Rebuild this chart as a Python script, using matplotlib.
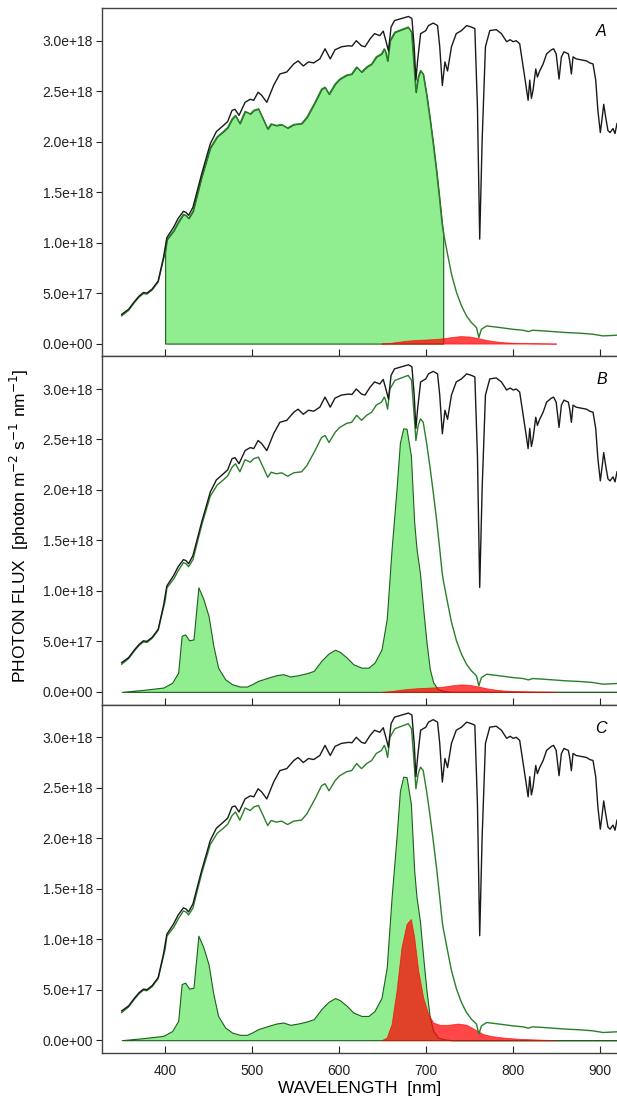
import numpy as np
import matplotlib
matplotlib.use('Agg')
import matplotlib.pyplot as plt
from matplotlib.ticker import FuncFormatter

plt.rcParams['font.family'] = ['Liberation Sans', 'DejaVu Sans']

# incident sunlight (black line), values in 1e18 photon m-2 s-1 nm-1
wl_sun = [350, 358, 365, 370, 375, 379, 385, 392, 398, 402, 409.6, 415, 421, 424, 427, 432,
          442, 452, 459, 467, 472, 477, 480.5, 485, 492, 498, 502, 507, 511, 517, 525, 532,
          540, 548, 553, 559, 565, 571, 578, 584, 590, 595.5, 603, 611, 615, 620, 626, 630,
          636, 641, 647, 651, 654, 657, 660, 664, 672, 680, 684, 686.6, 688.6, 690.5, 694,
          700, 703, 708.5, 713.5, 716, 719, 722, 725, 729.5, 735, 741, 747, 752.5, 756.4,
          759.4, 762, 764.8, 768.6, 773.6, 781, 787, 793, 797, 800.5, 804, 808, 811, 815,
          817.7, 819.6, 821.5, 823.4, 826.5, 828.4, 831, 835, 839, 844.5, 847, 850, 853.3,
          856, 859, 864, 865.6, 867.5, 869.4, 873, 879, 885, 888.6, 892.4, 895.5, 898,
          900.8, 903, 904.7, 907, 909.6, 912, 915.4, 917.7, 920]
sun = [0.29, 0.34, 0.42, 0.47, 0.506, 0.50, 0.54, 0.62, 0.85, 1.05, 1.15, 1.24, 1.31, 1.30,
       1.27, 1.35, 1.68, 1.98, 2.10, 2.16, 2.20, 2.31, 2.32, 2.26, 2.39, 2.42, 2.41, 2.49,
       2.46, 2.39, 2.56, 2.67, 2.69, 2.77, 2.80, 2.75, 2.79, 2.78, 2.82, 2.92, 2.82, 2.91,
       2.94, 2.95, 2.946, 3.00, 2.95, 2.94, 3.02, 3.07, 3.05, 3.095, 3.00, 2.90, 3.135, 3.20,
       3.22, 3.24, 3.22, 2.94, 2.61, 2.80, 3.07, 3.10, 3.15, 3.175, 3.15, 2.94, 2.556, 2.79,
       2.70, 2.94, 3.07, 3.10, 3.15, 3.135, 3.12, 2.34, 1.035, 2.01, 2.94, 3.10, 3.11, 3.07,
       2.99, 3.01, 2.99, 3.00, 2.97, 2.80, 2.57, 2.41, 2.61, 2.43, 2.51, 2.72, 2.64, 2.70,
       2.77, 2.87, 2.91, 2.92, 2.87, 2.62, 2.84, 2.89, 2.87, 2.80, 2.67, 2.84, 2.82, 2.81,
       2.80, 2.78, 2.77, 2.61, 2.31, 2.09, 2.24, 2.37, 2.24, 2.11, 2.09, 2.13, 2.08, 2.18]

# light reaching the leaf surface (green line)
wl_leaf = [350, 358, 365, 370, 375, 379, 385, 392, 398, 400, 402, 410, 415, 421, 424, 427, 432,
           442, 452, 460, 467, 472, 477, 481, 486, 492, 498, 502, 507.4, 512, 518, 522, 528,
           534, 541, 548, 557, 563, 572.5, 580, 584, 588.6, 595.5, 601, 609, 614.6, 620.4,
           626, 632, 637.6, 643, 649, 652.2, 653.7, 656, 658.7, 664.4, 672, 679.7, 683.6,
           686.3, 688.6, 691.2, 693.9, 697, 700.8, 704.6, 708.5, 712.3, 716, 718.8, 720,
           725, 729.5, 735.3, 741, 746.8, 752.5, 758.3, 761, 764, 770, 785, 800, 812, 818,
           823, 835, 846, 862, 877, 892, 904, 920]
leaf = [0.274, 0.33, 0.41, 0.46, 0.495, 0.49, 0.53, 0.61, 0.83, 0.90, 1.03, 1.12, 1.20, 1.28,
        1.27, 1.24, 1.31, 1.65, 1.94, 2.05, 2.10, 2.14, 2.225, 2.26, 2.18, 2.30, 2.275, 2.31,
        2.325, 2.24, 2.126, 2.176, 2.16, 2.17, 2.136, 2.17, 2.18, 2.24, 2.39, 2.52, 2.54,
        2.47, 2.57, 2.62, 2.66, 2.67, 2.74, 2.69, 2.74, 2.77, 2.84, 2.87, 2.92, 2.89, 2.80,
        3.00, 3.085, 3.11, 3.135, 3.085, 2.77, 2.49, 2.64, 2.705, 2.67, 2.47, 2.24, 1.98,
        1.71, 1.415, 1.18, 1.11, 0.886, 0.69, 0.506, 0.374, 0.274, 0.208, 0.159, 0.06,
        0.142, 0.175, 0.159, 0.142, 0.132, 0.119, 0.132, 0.126, 0.119, 0.109, 0.103, 0.093,
        0.076, 0.083]

# absorbed light (green fill, panels B and C)
wl_abs = [350, 375, 398, 408, 415, 419, 423, 427.6, 432.6, 438.3, 444, 450, 455.5, 461, 469,
          477, 486, 494, 500, 507, 519, 528, 536, 544, 553, 563, 571, 580, 588, 595.5, 601,
          609, 616.5, 626, 634, 641, 649, 655, 660.6, 666.3, 670.2, 674, 677.8, 682.8, 686.6,
          689.3, 693.2, 697, 700.8, 704.6, 708.5, 714, 722, 730, 920]
absorbed = [0, 0.02, 0.043, 0.09, 0.19, 0.556, 0.57, 0.51, 0.52, 1.035, 0.92, 0.75, 0.456,
            0.24, 0.126, 0.076, 0.053, 0.053, 0.076, 0.109, 0.142, 0.165, 0.175, 0.152, 0.165,
            0.185, 0.208, 0.31, 0.38, 0.417, 0.397, 0.34, 0.274, 0.24, 0.24, 0.29, 0.42, 0.72,
            1.415, 2.01, 2.47, 2.61, 2.606, 2.34, 1.68, 1.415, 1.18, 0.82, 0.49, 0.225, 0.093,
            0.026, 0.007, 0, 0]

# chlorophyll fluorescence (red fill)
wl_fluo_low = [649, 660, 670, 680, 690, 700, 710, 720, 730, 740, 750, 760, 770, 780, 790, 800,
               820, 850]
fluo_low = [0, 0.008, 0.02, 0.03, 0.036, 0.04, 0.045, 0.052, 0.065, 0.074, 0.07, 0.055,
            0.035, 0.022, 0.013, 0.008, 0.004, 0]
wl_fluo_high = [649, 655, 660.6, 666.3, 672, 677.8, 682.8, 686.6, 691.2, 697, 702.7, 708.5,
                716, 726, 737, 747, 756, 766, 776, 789, 808, 850]
fluo_high = [0, 0.026, 0.159, 0.49, 0.92, 1.15, 1.20, 1.02, 0.69, 0.42, 0.26, 0.175, 0.152,
             0.152, 0.165, 0.152, 0.109, 0.06, 0.04, 0.026, 0.013, 0]

panels = ['A', 'B', 'C']
yticks = [0, 0.5, 1.0, 1.5, 2.0, 2.5, 3.0]

wl_sun = np.array(wl_sun); sun = np.array(sun) * 1e18
wl_leaf = np.array(wl_leaf); leaf = np.array(leaf) * 1e18
wl_abs = np.array(wl_abs); absorbed = np.array(absorbed) * 1e18
wl_fluo_low = np.array(wl_fluo_low); fluo_low = np.array(fluo_low) * 1e18
wl_fluo_high = np.array(wl_fluo_high); fluo_high = np.array(fluo_high) * 1e18

fig = plt.figure(figsize=(6.17, 11.01), dpi=100)
left = 101.7 / 617
h = 348.3 / 1101
bottoms = [1 - 356.3 / 1101, 1 - 704.6 / 1101, 1 - 1052.9 / 1101]

for i, letter in enumerate(panels):
    ax = fig.add_axes([left, bottoms[i], 1 - left, h])

    if letter == 'A':
        m = (wl_leaf >= 400) & (wl_leaf <= 720)
        ax.fill_between(wl_leaf[m], 0, leaf[m], facecolor='#90ee90', edgecolor='#1e5e1e', lw=0.8)
    else:
        ax.fill_between(wl_abs, 0, absorbed, facecolor='#90ee90', edgecolor='#1e5e1e', lw=0.8)

    if letter == 'C':
        ax.fill_between(wl_fluo_high, 0, fluo_high, facecolor='red', edgecolor='red', alpha=0.72, lw=0.6)
    else:
        ax.fill_between(wl_fluo_low, 0, fluo_low, facecolor='red', edgecolor='red', alpha=0.72, lw=0.6)

    ax.plot(wl_leaf, leaf, color='#2a7f2a', lw=1.0)
    ax.plot(wl_sun, sun, color='#1a1a1a', lw=1.0)

    ax.set_xlim(327, 920)
    ax.set_ylim(-0.126e18, 3.324e18)
    ax.set_yticks([v * 1e18 for v in yticks])
    ax.yaxis.set_major_formatter(FuncFormatter(lambda v, p: '%.1e' % v))
    ax.set_xticks([400, 500, 600, 700, 800, 900])
    ax.tick_params(axis='y', direction='out', length=4.3, width=0.8, pad=2, labelsize=10,
                   colors='#222222')
    ax.tick_params(axis='x', direction='in', length=5, width=0.8, pad=8, labelsize=10,
                   colors='#222222', labelbottom=(letter == 'C'))
    for s in ['left', 'bottom', 'top']:
        ax.spines[s].set_color('#444444')
        ax.spines[s].set_linewidth(1.0)
    ax.spines['right'].set_visible(False)

    ax.text(902, 3.09e18, letter, fontsize=11.5, style='italic', ha='center', va='center')

    if letter == 'C':
        ax.set_xlabel('WAVELENGTH  [nm]', fontsize=12.5, labelpad=2)

fig.text(0.032, 0.5227, 'PHOTON FLUX  [photon m$^{-2}$ s$^{-1}$ nm$^{-1}$]', rotation=90,
         ha='center', va='center', fontsize=12.5)

fig.savefig('out.png', dpi=100)
